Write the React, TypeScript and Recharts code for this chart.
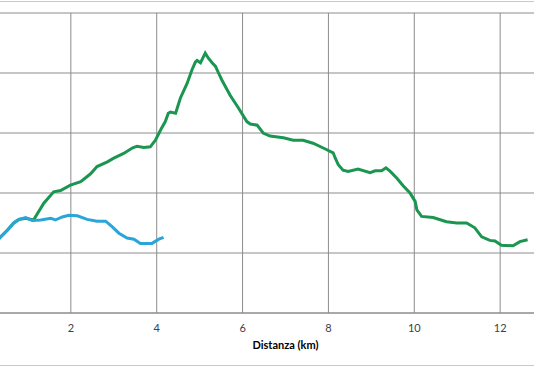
import { LineChart, Line, XAxis, YAxis, CartesianGrid, Label } from "recharts"

// percorso completo (verde)
const greenKm = [
  0, 0.37, 0.52, 0.67, 0.79, 0.95, 1.13, 1.37, 1.6, 1.76, 1.99, 2.23, 2.46, 2.61,
  2.85, 3.0, 3.23, 3.43, 3.54, 3.7, 3.85, 3.97, 4.09, 4.2, 4.27, 4.32, 4.44, 4.55,
  4.71, 4.82, 4.9, 4.94, 5.02, 5.13, 5.2, 5.29, 5.37, 5.44, 5.52, 5.71, 5.9, 6.1,
  6.18, 6.34, 6.48, 6.64, 6.95, 7.18, 7.41, 7.64, 7.88, 8.11, 8.16, 8.23, 8.34,
  8.46, 8.69, 8.97, 9.09, 9.24, 9.34, 9.44, 9.59, 9.74, 9.9, 10.02, 10.06, 10.17,
  10.44, 10.75, 10.99, 11.22, 11.41, 11.57, 11.76, 11.88, 12.03, 12.3, 12.46, 12.64,
]
const greenElev = [
  102, 127, 138, 150, 156, 158, 155, 183, 202, 204, 213, 219, 232, 244,
  252, 258, 266, 275, 278, 276, 277, 288, 305, 319, 333, 335, 333, 358,
  383, 405, 418, 421, 417, 433, 425, 417, 411, 400, 388, 363, 342, 319,
  315, 313, 300, 295, 292, 288, 288, 283, 275, 267, 258, 247, 238,
  236, 240, 234, 237, 237, 242, 236, 225, 212, 200, 186, 172, 161,
  159, 152, 150, 150, 142, 127, 121, 120, 113, 112, 119, 122,
]

// primo tratto (azzurro)
const blueKm = [
  0, 0.37, 0.52, 0.67, 0.79, 0.95, 1.1, 1.3, 1.53, 1.64, 1.8, 1.95, 2.15, 2.38,
  2.61, 2.81, 2.96, 3.12, 3.31, 3.47, 3.62, 3.89, 4.05, 4.16,
]
const blueElev = [
  102, 127, 138, 150, 156, 159, 154, 155, 158, 155, 160, 163, 162, 156,
  153, 153, 144, 133, 125, 123, 116, 116, 123, 126,
]

// 0 e 14 cadono fuori dal ritaglio
const xTicks = [2, 4, 6, 8, 10, 12]
const yTicks = [0, 100, 200, 300, 400, 500]

const green = greenKm.map((km, i) => ({ km, elev: greenElev[i] }))
const blue = blueKm.map((km, i) => ({ km, elev: blueElev[i] }))

const font = "Lato, 'Open Sans', sans-serif"

export default function App() {
  return (
    <div
      style={{
        position: "absolute",
        top: 0,
        left: 0,
        width: 534,
        height: 367,
        overflow: "hidden",
        background: "#fff",
      }}
    >
      <div style={{ position: "absolute", top: 1, left: 0, width: 534, height: 1, background: "#c8c8c8" }} />
      <div style={{ position: "absolute", top: 365, left: 0, width: 534, height: 1, background: "#c8c8c8" }} />
      <div style={{ position: "absolute", top: 0, left: -15 }}>
        <LineChart width={601} height={367} margin={{ top: 13, right: 0, left: 0, bottom: 0 }}>
          <CartesianGrid stroke="#8c8c8c" />
          <XAxis
            dataKey="km"
            type="number"
            domain={[0, 14]}
            ticks={xTicks}
            height={54}
            tickSize={0}
            tickMargin={11}
            axisLine={{ stroke: "#8c8c8c" }}
            tick={{ fill: "#404040", fontSize: 11, fontFamily: font }}
            allowDuplicatedCategory={false}
          >
            <Label
              value="Distanza (km)"
              position="insideBottom"
              offset={18}
              style={{ fill: "#000", fontSize: 11, fontWeight: 700, fontFamily: font }}
            />
          </XAxis>
          <YAxis hide type="number" domain={[0, 500]} ticks={yTicks} />
          <Line
            data={green}
            dataKey="elev"
            type="linear"
            stroke="#1a9651"
            strokeWidth={3}
            dot={false}
            isAnimationActive={false}
          />
          <Line
            data={blue}
            dataKey="elev"
            type="linear"
            stroke="#2aa5d8"
            strokeWidth={3}
            dot={false}
            isAnimationActive={false}
          />
        </LineChart>
      </div>
    </div>
  )
}
